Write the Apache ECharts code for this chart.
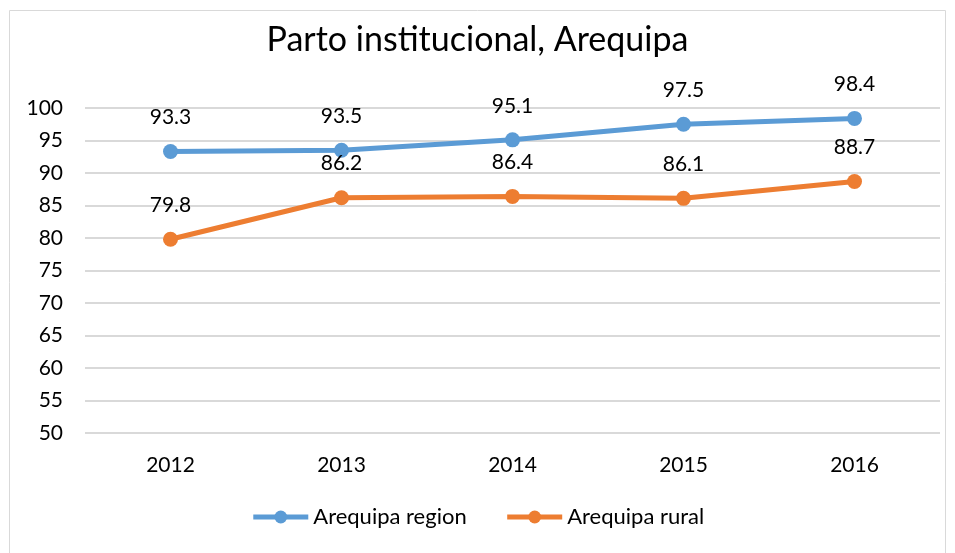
<!DOCTYPE html>
<html><head><meta charset="utf-8">
<script src="https://cdn.jsdelivr.net/npm/echarts@6/dist/echarts.min.js"></script>
<style>html,body{margin:0;padding:0;background:#fff}#c{width:955px;height:553px}</style>
</head><body><div id="c"></div>
<script>
const categories = ['2012','2013','2014','2015','2016'];
const regionValues = [93.3, 93.5, 95.1, 97.5, 98.4];
const ruralValues = [79.8, 86.2, 86.4, 86.1, 88.7];
const seriesNames = ['Arequipa region','Arequipa rural'];
const FONT = 'Lato';
const chart = echarts.init(document.getElementById('c'));
chart.setOption({
  animation:false,
  title:{text:'Parto institucional, Arequipa',left:'center',top:18,textStyle:{fontFamily:FONT,fontSize:34,fontWeight:'normal',color:'#000'}},
  graphic:[{type:'rect',shape:{x:9.5,y:10.5,width:936,height:560},style:{fill:'none',stroke:'#d9d9d9',lineWidth:1}}],
  grid:{left:85,right:15,top:108,bottom:120},
  legend:{bottom:20,left:'center',itemWidth:55,itemHeight:16,itemGap:38,lineStyle:{width:5},textStyle:{fontFamily:FONT,fontSize:22,color:'#000'},data:seriesNames},
  xAxis:{type:'category',data:categories,axisLine:{show:false},axisTick:{show:false},axisLabel:{fontFamily:FONT,fontSize:21,color:'#000',margin:22}},
  yAxis:{type:'value',min:50,max:100,interval:5,axisLine:{show:false},axisTick:{show:false},axisLabel:{fontFamily:FONT,fontSize:21,color:'#000',margin:22},splitLine:{lineStyle:{color:'#d9d9d9',width:2}}},
  series:[
    {name:seriesNames[0],type:'line',data:regionValues,symbol:'circle',symbolSize:15,lineStyle:{width:5,color:'#5B9BD5'},itemStyle:{color:'#5B9BD5'},label:{show:true,position:'top',distance:16,fontFamily:FONT,fontSize:21,color:'#000'}},
    {name:seriesNames[1],type:'line',data:ruralValues,symbol:'circle',symbolSize:15,lineStyle:{width:5,color:'#ED7D31'},itemStyle:{color:'#ED7D31'},label:{show:true,position:'top',distance:16,fontFamily:FONT,fontSize:21,color:'#000'}}
  ]
});
</script></body></html>
